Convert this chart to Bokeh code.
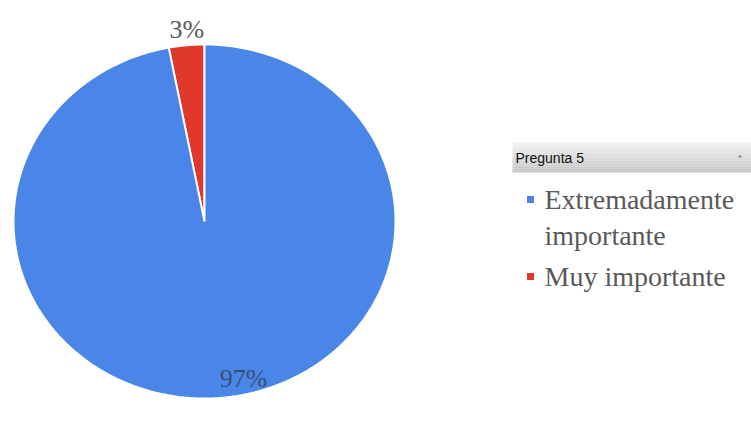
import numpy as np
from bokeh.plotting import figure
from bokeh.models import Range1d, ColumnDataSource
from bokeh.core.properties import value
from bokeh.embed import file_html
from bokeh.resources import INLINE

# data
categories = ["Extremadamente importante", "Muy importante"]
legend_lines = [["Extremadamente", "importante"], ["Muy importante"]]
shares = [97, 3]
colors = ["#4a86e8", "#e0392b"]
title = "Pregunta 5"

W, H = 751, 426
p = figure(width=W, height=H, output_backend="svg", toolbar_location=None,
           x_range=Range1d(0, W), y_range=Range1d(0, H), min_border=0,
           outline_line_color=None)
p.axis.visible = False
p.grid.visible = False
p.background_fill_color = "white"

# pie geometry (slightly elliptical, as in the reference)
cx, cy = 204, 205
rx, ry = 191, 177

total = sum(shares)
fracs = np.array(shares) / total
start = np.pi / 2
xs, ys = [], []
order = [1, 0]
angle = start
slice_angles = {}
for i in order:
    a0 = angle
    a1 = angle + fracs[i] * 2 * np.pi
    t = np.linspace(a0, a1, 200)
    xs.append([cx] + list(cx + rx * np.cos(t)) + [cx])
    ys.append([cy] + list(cy + ry * np.sin(t)) + [cy])
    slice_angles[i] = (a0, a1)
    angle = a1

src = ColumnDataSource(dict(xs=xs, ys=ys, color=[colors[i] for i in order]))
p.patches("xs", "ys", source=src, fill_color="color", line_color="white",
          line_width=2)

# percentage labels
lab_font = value("Liberation Serif")
a0, a1 = slice_angles[1]
am = (a0 + a1) / 2
p.text(x=[cx + (rx + 18) * np.cos(am) + 2], y=[cy + (ry + 18) * np.sin(am) - 2],
       text=[f"{shares[1]}%"], text_font=lab_font, text_font_size="26px",
       text_color="#595959", text_align="center", text_baseline="middle")
p.text(x=[243], y=[48],
       text=[f"{shares[0]}%"], text_font=lab_font, text_font_size="26px",
       text_color="#3a4f78", text_align="center", text_baseline="middle")

# legend header with gradient
hx0, hx1 = 512, 751
hy_top, hy_bot = H - 142, H - 172
n = 15
grays = np.linspace(0xf0, 0xc4, n)
for k in range(n):
    y_t = hy_top - (hy_top - hy_bot) * k / n
    y_b = hy_top - (hy_top - hy_bot) * (k + 1) / n
    g = int(grays[k])
    p.quad(left=[hx0], right=[hx1], top=[y_t], bottom=[y_b],
           fill_color="#%02x%02x%02x" % (g, g, g), line_color=None)
p.text(x=[515], y=[(hy_top + hy_bot) / 2], text=[title],
       text_font=value("Liberation Sans"), text_font_size="14px",
       text_color="#111111", text_align="left", text_baseline="middle")
p.quad(left=[738], right=[741], top=[H - 155], bottom=[H - 157],
       fill_color="#888888", line_color=None)

# legend items
ly = [H - 199, H - 276]
for i, lines in enumerate(legend_lines):
    p.scatter(x=[530], y=[ly[i]], marker="square", size=7,
              fill_color=colors[i], line_color=None)
    for j, s in enumerate(lines):
        p.text(x=[544], y=[ly[i] - 36 * j], text=[s], text_font=lab_font,
               text_font_size="28px", text_color="#595959",
               text_align="left", text_baseline="middle")

open("out.html", "w").write(file_html(p, INLINE))
